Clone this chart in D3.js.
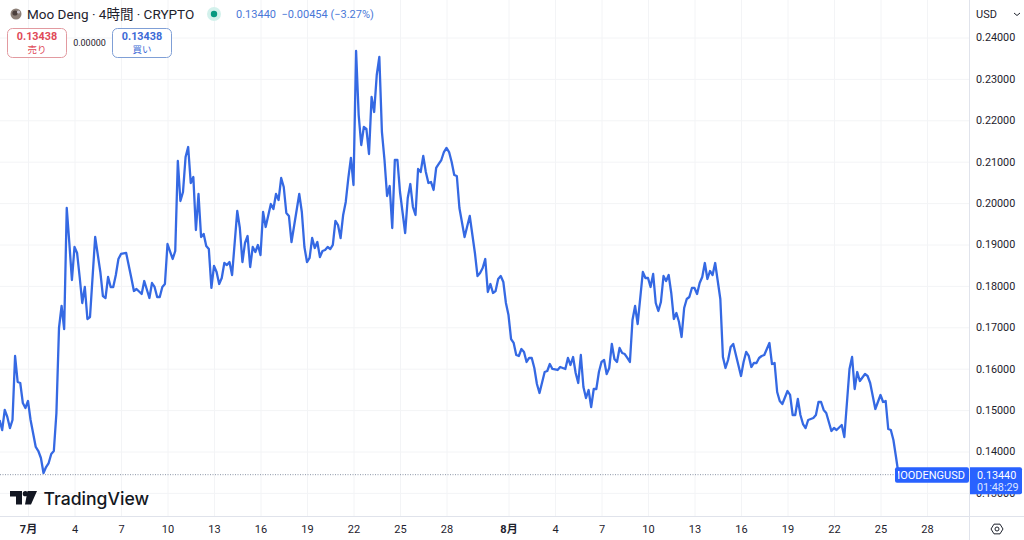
<!DOCTYPE html>
<html><head><meta charset="utf-8">
<script src="https://cdnjs.cloudflare.com/ajax/libs/d3/7.8.5/d3.min.js"></script>
<style>
html,body{margin:0;padding:0;background:#fff;overflow:hidden}
svg{display:block}
text{font-family:Roboto,"Noto Sans CJK JP",sans-serif;fill:#1e222d}
</style></head><body>
<svg id="c" width="1024" height="540"></svg>
<script>
// Bars are 4-hour candles counted from 1 July 00:00
const bars = [
-11,-10,-9,-8,-7,-6,-5,-4,-3,-2,-1,0,1,3,4,5,6,7,8,9,
10,11,12,13,14,15,16,17,18,19,20,21,22,23,24,26,28,29,30,31,
32,33,34,35,36,38,40,41,42,44,45,47,48,49,50,51,52,53,54,56,
57,58,59,60,61,62,63,64,65,66,67,68,69,70,71,72,73,74,75,76,
77,78,79,81,82,83,84,85,86,87,88,89,90,91,92,94,95,96,97,98,
99,100,101,102,105,106,107,108,109,110,111,112,113,114,115,116,117,118,119,120,
121,122,123,124,125,126,127,128,129,130,131,132,133,134,135,136,137,138,139,140,
141,142,143,144,146,147,148,149,150,151,152,153,154,155,156,157,158,159,160,161,
162,163,164,165,166,167,169,171,173,174,175,176,177,178,179,180,181,182,183,184,
185,186,187,188,189,190,191,192,193,194,195,196,197,198,200,201,202,203,205,206,
208,209,210,211,212,213,214,215,216,217,218,219,220,221,222,223,224,225,226,227,
228,229,230,231,232,233,234,235,236,238,239,240,241,242,243,244,245,246,247,248,
249,250,251,252,253,254,255,256,257,258,259,260,261,262,263,264,265,266,268,269,
270,271,272,273,276,277,278,279,280,281,282,283,284,285,287,288,289,290,291,292,
294,295,296,297,298,299,300,301,302,304,305,306,307,308,309,311,312,313,315,316,
318,319,320,321,322,324,325,326,328,330,331,332,333,334,335,336,337];
const prices = [
.14761,.14519,.15003,.14833,.14567,.14761,.16307,.15679,.15655,.15171,.15051,.15220,.14761,.14109,.14012,.13843,.13481,.13625,.13722,.13940,
.14012,.14930,.16983,.17515,.16959,.19882,.19036,.18143,.18940,.18795,.18215,.17587,.17974,.17201,.17249,.19181,.18336,.17756,.17708,.18215,
.17974,.17974,.18263,.18650,.18771,.18795,.18191,.17877,.17925,.17804,.18118,.17708,.18070,.17974,.17732,.17732,.17974,.18046,.19012,.18650,
.18843,.21017,.20051,.20268,.21114,.21355,.20486,.20631,.19350,.20220,.19181,.19254,.18964,.18891,.17950,.18481,.18336,.18046,.18191,.18553,
.18505,.18577,.18263,.19809,.19399,.18577,.19036,.19205,.18457,.18940,.18819,.18988,.18746,.19785,.19423,.19978,.19858,.20220,.20075,.20606,
.20389,.19761,.19689,.19060,.20220,.19785,.18940,.18577,.18674,.19157,.18916,.19060,.18698,.18843,.18867,.18940,.18891,.18988,.19568,.19471,
.19157,.19713,.20027,.20606,.21090,.20437,.23674,.22128,.21403,.21838,.21790,.21186,.22563,.22201,.23094,.23529,.21718,.21041,.20172,.20413,
.19399,.21041,.21041,.20268,.19278,.20123,.20461,.19906,.19713,.20824,.20751,.21138,.20751,.20486,.20510,.20317,.20848,.20945,.21041,.21234,
.21331,.21234,.20993,.20679,.20655,.19882,.19181,.19689,.18795,.18239,.18312,.18433,.18650,.17853,.18046,.17829,.17877,.18167,.18239,.18094,
.17587,.17297,.16717,.16621,.16331,.16307,.16476,.16404,.16162,.16259,.16259,.16017,.15630,.15413,.15920,.15944,.16113,.15993,.15969,.16041,
.15993,.16259,.16089,.16283,.15896,.15655,.16331,.15558,.15292,.15485,.15075,.15510,.15510,.15920,.16162,.16210,.15872,.16017,.16597,.16235,
.16162,.16500,.16379,.16355,.16259,.16162,.17176,.17515,.17080,.18336,.18191,.18191,.17974,.18288,.17587,.17394,.17611,.18239,.18118,.18263,
.17829,.17201,.17345,.17128,.16766,.17466,.17684,.17732,.17950,.17950,.17804,.18070,.18215,.18553,.18167,.18360,.18263,.18553,.17684,.16283,
.16017,.16210,.16524,.16597,.15824,.16162,.16404,.16307,.16041,.16138,.16138,.16259,.16307,.16331,.16621,.16113,.16138,.15437,.15220,.15147,
.15461,.15365,.14882,.14882,.15268,.14882,.14664,.14567,.14761,.14809,.14882,.15196,.15196,.15003,.14930,.14495,.14567,.14519,.14640,.14350,
.15993,.16283,.15510,.15920,.15703,.15872,.15824,.15655,.15027,.15365,.15196,.15220,.14543,.14519,.14278,.13867,.13440];

const priceTicks = [0.24,0.23,0.22,0.21,0.20,0.19,0.18,0.17,0.16,0.15,0.14,0.13];
const dayTicks = [[0,"7月"],[18,"4"],[36,"7"],[54,"10"],[72,"13"],[90,"16"],[108,"19"],[126,"22"],[144,"25"],[162,"28"],
 [186,"8月"],[204,"4"],[222,"7"],[240,"10"],[258,"13"],[276,"16"],[294,"19"],[312,"22"],[330,"25"],[348,"28"]];
const lastPrice = 0.1344;
const symbolLabel = ".MOODENGUSD";
const countdown = "01:48:29";
const titleText = "Moo Deng · 4時間 · CRYPTO";
const quoteText = "0.13440  −0.00454 (−3.27%)";
const sellQuote = ["0.13438","売り"];
const spreadText = "0.00000";
const buyQuote = ["0.13438","買い"];

const W = 1024, H = 540, paneR = 969, paneB = 516;
const blue = "#2962ff", lineBlue = "#3569e3", ink = "#1e222d";
const x = d3.scaleLinear().domain([0,186]).range([28,508.5]);
const y = d3.scaleLinear().domain([0.14,0.24]).range([451.5,37.5]);
const svg = d3.select("#c");

// grid
svg.append("g")
 .call(d3.axisRight(y).tickValues(priceTicks).tickSize(paneR).tickFormat(""))
 .call(g=>g.select(".domain").remove())
 .selectAll("line").attr("stroke","#f3f4f6");
svg.append("g").attr("transform",`translate(0,${paneB})`)
 .call(d3.axisTop(x).tickValues(dayTicks.map(d=>d[0])).tickSize(paneB).tickFormat(""))
 .call(g=>g.select(".domain").remove())
 .selectAll("line").attr("stroke","#f3f4f6");

// last price dotted line
svg.append("line").attr("x1",0).attr("x2",paneR).attr("y1",y(lastPrice)).attr("y2",y(lastPrice))
 .attr("stroke","#8a94a6").attr("stroke-width",1).attr("stroke-dasharray","1 1.5");

// series
const line = d3.line().x((d,i)=>x(bars[i])).y(d=>y(d));
svg.append("path").datum(prices).attr("d",line).attr("fill","none")
 .attr("stroke",lineBlue).attr("stroke-width",2.3).attr("stroke-linejoin","round");

// pane frame
svg.append("line").attr("x1",0).attr("x2",W).attr("y1",paneB+.5).attr("y2",paneB+.5).attr("stroke","#e0e3eb");
svg.append("line").attr("x1",paneR+.5).attr("x2",paneR+.5).attr("y1",0).attr("y2",H).attr("stroke","#e0e3eb");

// price axis
const pa = svg.append("g").attr("transform",`translate(${paneR},0)`)
 .call(d3.axisRight(y).tickValues(priceTicks).tickSize(0).tickPadding(7).tickFormat(d3.format(".5f")));
pa.select(".domain").remove();
pa.selectAll("text").attr("font-size",10.8).style("font-family","Roboto").style("fill",ink);

// time axis
const labelOf = new Map(dayTicks);
const ta = svg.append("g").attr("transform",`translate(0,${paneB})`)
 .call(d3.axisBottom(x).tickValues(dayTicks.map(d=>d[0])).tickSize(0).tickPadding(9).tickFormat(d=>labelOf.get(d)));
ta.select(".domain").remove();
ta.selectAll("text").attr("font-size",11).style("fill",ink)
 .style("font-family",'Roboto,"Noto Sans CJK JP"')
 .attr("font-weight",d=>String(labelOf.get(d)).includes("月")?700:400);

// last price tags
const ly = y(lastPrice);
const tag = svg.append("g");
tag.append("rect").attr("x",895).attr("y",ly-7.5).attr("width",74).attr("height",15.5).attr("rx",2).attr("fill",blue);
tag.append("clipPath").attr("id","sym").append("rect").attr("x",898).attr("y",ly-8).attr("width",70).attr("height",16);
tag.append("text").attr("x",965).attr("y",ly+4).attr("text-anchor","end").attr("clip-path","url(#sym)")
 .attr("font-size",11).style("fill","#fff").text(symbolLabel);
tag.append("path").attr("d",`M970 ${ly-7.5}h50a2 2 0 0 1 2 2v23a2 2 0 0 1 -2 2h-50z`).attr("fill",blue);
tag.append("text").attr("x",977).attr("y",ly+4).attr("font-size",10.8).style("fill","#fff").text(d3.format(".5f")(lastPrice));
tag.append("text").attr("x",977).attr("y",ly+16.5).attr("font-size",10.8).style("fill","#dbe4ff").text(countdown);

// header
const head = svg.append("g");
head.append("circle").attr("cx",16).attr("cy",14).attr("r",5.5).attr("fill","#8d8078");
head.append("circle").attr("cx",15).attr("cy",13).attr("r",2.6).attr("fill","#4b3f3c");
head.append("circle").attr("cx",18.5).attr("cy",12).attr("r",1.6).attr("fill","#c9c3cb");
head.append("text").attr("x",27).attr("y",19).attr("font-size",13.5).text(titleText);
head.append("circle").attr("cx",214).attr("cy",14).attr("r",7).attr("fill","#d3f1ec");
head.append("circle").attr("cx",214).attr("cy",14).attr("r",3.2).attr("fill","#089981");
head.append("text").attr("x",236).attr("y",18).attr("font-size",11).style("white-space","pre").style("fill","#4a78d8").text(quoteText);

function quoteBox(bx,col,border,t){
  const g = svg.append("g");
  g.append("rect").attr("x",bx+.5).attr("y",28.5).attr("width",59).attr("height",29).attr("rx",5)
   .attr("fill","#fff").attr("stroke",border);
  g.append("text").attr("x",bx+30).attr("y",40).attr("text-anchor","middle").attr("font-size",10.8)
   .attr("font-weight",700).style("fill",col).text(t[0]);
  g.append("text").attr("x",bx+30).attr("y",53).attr("text-anchor","middle").attr("font-size",9.5)
   .style("fill",col).text(t[1]);
}
quoteBox(7,"#e04a58","#e29aa0",sellQuote);
quoteBox(112,"#3c6ad6","#7f9fd6",buyQuote);
svg.append("text").attr("x",89.5).attr("y",46).attr("text-anchor","middle").attr("font-size",9).text(spreadText);

// currency
svg.append("text").attr("x",976).attr("y",18).attr("font-size",11).text("USD");
svg.append("path").attr("d","M1014 13l3 2.5 3-2.5").attr("fill","none").attr("stroke",ink);

// settings icon
const gear = svg.append("g").attr("transform","translate(997,529)");
gear.append("path").attr("d",d3.range(6).map(i=>{const a=Math.PI/3*i;return (i?"L":"M")+(6*Math.cos(a)).toFixed(2)+" "+(5.6*Math.sin(a)).toFixed(2)}).join("")+"Z")
 .attr("fill","none").attr("stroke",ink);
gear.append("circle").attr("r",2).attr("fill","none").attr("stroke",ink);

// logo
const logo = svg.append("g").attr("transform","translate(10,491)");
logo.append("path").attr("d","M0 0h12v13.5h-6v-8h-6z M17.5 0h9.5l-6 13.5h-6z").attr("fill","#131722");
logo.append("circle").attr("cx",15.3).attr("cy",2.7).attr("r",2.6).attr("fill","#131722");
svg.append("text").attr("x",43.5).attr("y",504.5).attr("font-size",17.6).attr("font-weight",500).style("font-family","Inter").style("fill","#131722").text("TradingView");
</script>
</body></html>
